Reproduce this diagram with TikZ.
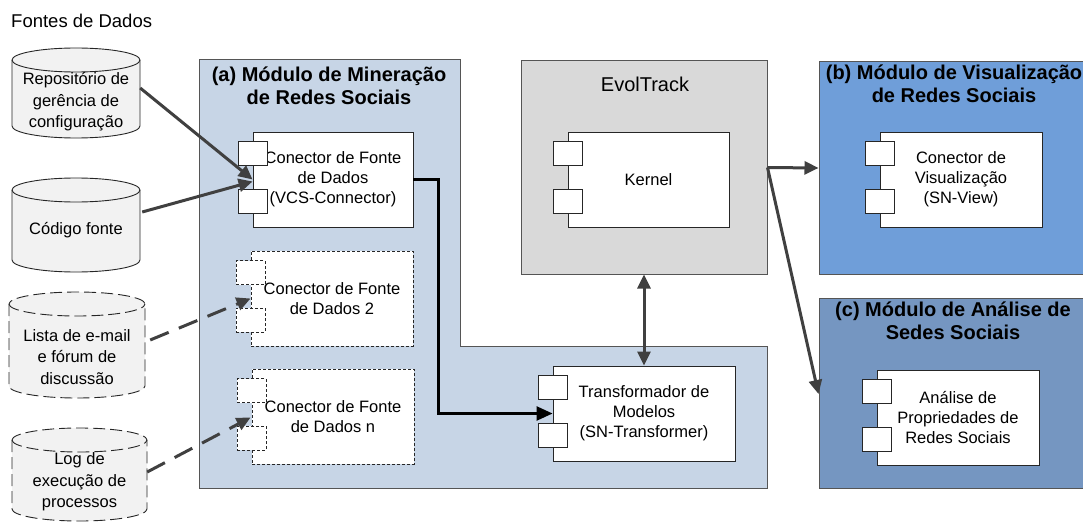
\documentclass[tikz,border=0pt]{standalone}
\usepackage{fontspec}
\setmainfont{Liberation Sans}
\usetikzlibrary{arrows.meta,calc}
\definecolor{modA}{RGB}{199,213,230}
\definecolor{evolfill}{RGB}{217,217,217}
\definecolor{modB}{RGB}{111,158,217}
\definecolor{modC}{RGB}{117,150,193}
\definecolor{cylfill}{RGB}{242,242,242}
\definecolor{arrowgray}{RGB}{64,64,64}
\definecolor{edgegray}{RGB}{85,85,85}
\newcommand\dbcylinder[5]{%
  \pgfmathsetmacro\cylrx{(#2-#1)/2}%
  \path[cyl,#5] (#1,-#3-12) -- (#1,-#4+12)
    arc[start angle=180,end angle=360,x radius=\cylrx,y radius=12]
    -- (#2,-#3-12)
    arc[start angle=0,end angle=180,x radius=\cylrx,y radius=12] -- cycle;
  \draw[cyl,fill=none,#5] (#1,-#3-12)
    arc[start angle=180,end angle=360,x radius=\cylrx,y radius=12];
}
\newcommand\compports[2]{%
  \node[port,#2] (#1p1) at ([yshift=26pt]#1.west) {};
  \node[port,#2] (#1p2) at ([yshift=-21.5pt]#1.west) {};
}
\begin{document}
\begin{tikzpicture}[x=1pt,y=1pt,
  body/.style={font=\fontsize{16.5}{20}\selectfont, align=center},
  cyltext/.style={font=\fontsize{16.5}{21.5}\selectfont, align=center, inner sep=0pt, minimum height=60pt},
  title/.style={font=\fontsize{20}{23}\selectfont\bfseries, align=center, inner sep=0pt},
  comp/.style={body, draw=black!85, line width=0.9pt, fill=white, minimum height=95pt, inner sep=0pt},
  port/.style={draw=black!85, line width=0.9pt, fill=white, minimum width=29pt, minimum height=24pt, inner sep=0pt},
  dashedbox/.style={dash pattern=on 3pt off 2pt},
  module/.style={draw=edgegray, line width=1pt, inner sep=0pt},
  cyl/.style={draw=black!85, line width=0.9pt, fill=cylfill},
  dashedcyl/.style={dash pattern=on 12pt off 5pt},
  flow/.style={draw=arrowgray, line width=3pt, -{Triangle[length=14pt,width=13pt]}},
  dashedflow/.style={flow, dash pattern=on 20pt off 11pt},
  blackflow/.style={draw=black, line width=2.5pt, -{Triangle[length=16pt,width=14pt]}},
]
\useasboundingbox (0,0) rectangle (1083,-524);
\clip (0,0) rectangle (1083,-524);

% ---------- data sources ----------
\node[font=\fontsize{18.5}{21}\selectfont, anchor=west, inner sep=0pt] (fontes) at (11,-21) {Fontes de Dados};

\dbcylinder{12}{140}{48}{138}{}
\node[cyltext, minimum width=128pt] (c1) at (76,-102) {Repositório de\\gerência de\\configuração};
\dbcylinder{12}{140}{178}{272}{}
\node[cyltext, minimum width=128pt] (c2) at (76,-230) {Código fonte};
\dbcylinder{9}{145}{292}{398}{dashedcyl}
\node[cyltext, minimum width=136pt] (c3) at (77,-357) {Lista de e-mail\\e fórum de\\discussão};
\dbcylinder{12}{147}{428}{521}{dashedcyl}
\node[cyltext, minimum width=135pt] (c4) at (79.5,-482) {Log de\\execução de\\processos};

% ---------- module (a) ----------
\path[module, fill=modA] (199,-60) -- (460,-60) -- (460,-346) -- (767,-346)
  -- (767,-488) -- (199,-488) -- cycle;
\node[title] (atitle) at (329,-85.5) {(a) Módulo de Mineração\\de Redes Sociais};

\node[comp, minimum width=160pt] (conn1) at (333,-179.5) {Conector de Fonte\\de Dados\\(VCS-Connector)};
\compports{conn1}{}
\node[comp, dashedbox, minimum width=162pt] (conn2) at (332,-298.5) {Conector de Fonte\\de Dados 2};
\compports{conn2}{dashedbox}
\node[comp, dashedbox, minimum width=162pt] (connn) at (333,-416.5) {Conector de Fonte\\de Dados n};
\compports{connn}{dashedbox}

\node[comp, minimum width=182pt] (trans) at (644,-413.5) {Transformador de\\Modelos\\(SN-Transformer)};
\compports{trans}{}

% ---------- EvolTrack ----------
\node[module, fill=evolfill, minimum width=246pt, minimum height=213pt] (evol) at (644,-167.5) {};
\node[font=\fontsize{20}{23}\selectfont, inner sep=0pt] (evoltitle) at (645,-84) {EvolTrack};
\node[comp, minimum width=161pt] (kernel) at (648.5,-179.5) {Kernel};
\compports{kernel}{}

% ---------- module (b) ----------
\node[module, fill=modB, minimum width=271pt, minimum height=212pt] (modb) at (954.5,-168) {};
\node[title] (btitle) at (954,-84) {(b) Módulo de Visualização\\de Redes Sociais};
\node[comp, minimum width=162pt] (viz) at (961,-179.5) {Conector de\\Visualização\\(SN-View)};
\compports{viz}{}

% ---------- module (c) ----------
\node[module, fill=modC, minimum width=271pt, minimum height=190pt] (modc) at (954.5,-393) {};
\node[title] (ctitle) at (953,-321) {(c) Módulo de Análise de\\Sedes Sociais};
\node[comp, minimum width=162pt] (anal) at (958,-417.5) {Análise de\\Propriedades de\\Redes Sociais};
\compports{anal}{}

% ---------- connectors ----------
\draw[flow] ([yshift=14pt]c1.east) -- ([yshift=0pt]conn1.west);
\draw[flow] ([xshift=2pt,yshift=18pt]c2.east) -- ([yshift=-2pt]conn1.west);
\draw[dashedflow] ([xshift=5pt,yshift=17pt]c3.east) -- (conn2.west);
\draw[dashedflow] ([yshift=10pt]c4.east) -- ([xshift=-1pt,yshift=-1pt]connn.west);

\draw[blackflow] (conn1.east) -- ++(25,0) |- (trans.west);
\draw[flow, {Triangle[length=14pt,width=13pt]}-{Triangle[length=14pt,width=13pt]}] (evol.south) -- (trans.north);

\draw[flow] (evol.east) -- (modb.west);
\draw[flow] (evol.east) -- ([yshift=-1pt]modc.west);
\end{tikzpicture}
\end{document}
